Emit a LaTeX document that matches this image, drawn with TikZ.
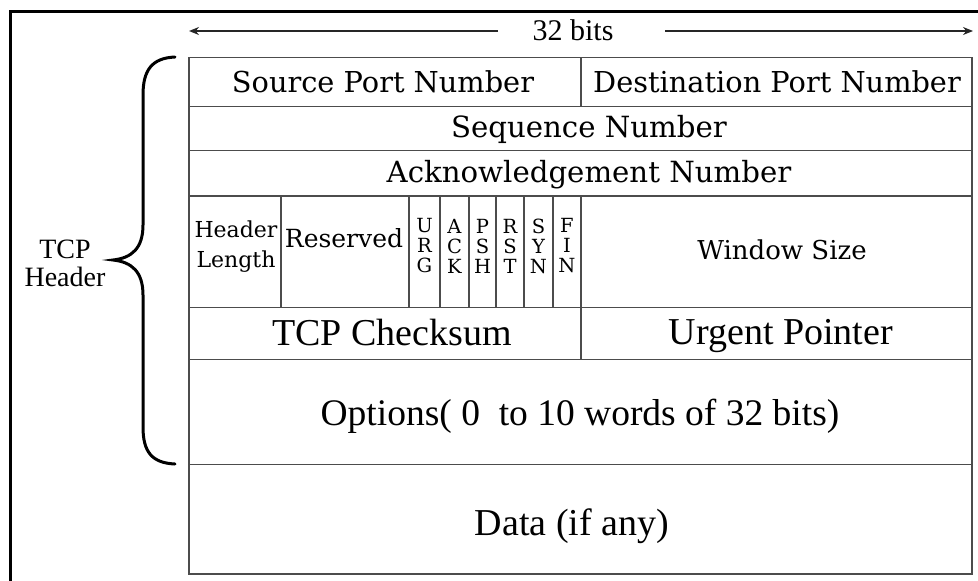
\documentclass[tikz,border=0pt]{standalone}
\usepackage{fontspec}
\setmainfont{DejaVu Serif}
\newfontfamily\timesf{Liberation Serif}
\usetikzlibrary{arrows.meta}
\begin{document}
\begin{tikzpicture}[x=1pt,y=-1pt,
  grid/.style={draw=black!70,line width=1.3pt},
  frame/.style={draw=black,line width=2.8pt},
  wide/.style={font=\fontsize{29.2}{32}\selectfont,inner sep=0pt,anchor=base},
  tms/.style={font=\timesf\fontsize{38}{44}\selectfont,inner sep=0pt,anchor=base},
  flag/.style={font=\fontsize{19.5}{20}\selectfont,inner sep=0pt,align=center,anchor=center},
  bitarrow/.style={draw=black!85,line width=1.5pt,-{Stealth[length=10pt,width=8pt]}},
]
\useasboundingbox (0,0) rectangle (978,581);
% outer frame
\draw[frame] (10.7,581) -- (10.7,11.5) -- (978,11.5);
% 32 bits arrow
\node[font=\timesf\fontsize{30}{34}\selectfont,inner sep=0pt,anchor=base] (bits) at (573,40) {32 bits};
\coordinate (al) at (189,31);
\coordinate (ar) at (973,31);
\coordinate (alr) at (498,31);
\coordinate (arl) at (665,31);
\draw[bitarrow] (alr) -- (al);
\draw[bitarrow] (arl) -- (ar);
% table grid
\draw[grid] (189,57.7) rectangle (972,574);
\foreach \y in {106.5,150.7,196,307.3,359.3,464.7}{\draw[grid] (189,\y) -- (972,\y);}
\draw[grid] (581,57.7) -- (581,106.5);
\foreach \x in {281,409,440,469,496,524,553,581}{\draw[grid] (\x,196) -- (\x,307.3);}
\draw[grid] (581,307.3) -- (581,359.3);
% texts
\node[font=\fontsize{28.8}{32}\selectfont,inner sep=0pt,anchor=base] (src) at (383,92) {Source Port Number};
\node[font=\fontsize{28.8}{32}\selectfont,inner sep=0pt,anchor=base] (dst) at (777,92) {Destination Port Number};
\node[wide] (seq) at (589,137) {Sequence Number};
\node[wide] (ack) at (589,182) {Acknowledgement Number};
\node[font=\fontsize{22}{30}\selectfont,inner sep=0pt,align=center,anchor=center] (hl) at (236,247) {Header\\Length};
\node[font=\fontsize{25}{30}\selectfont,inner sep=0pt,anchor=base] (res) at (344,247) {Reserved};
\node[flag] (urg) at (424.5,246) {U\\R\\G};
\node[flag] (ackf) at (454.5,246) {A\\C\\K};
\node[flag] (psh) at (482.5,246) {P\\S\\H};
\node[flag] (rst) at (510,246) {R\\S\\T};
\node[flag] (syn) at (538.5,246) {S\\Y\\N};
\node[flag] (fin) at (567,246) {F\\I\\N};
\node[font=\fontsize{26}{30}\selectfont,inner sep=0pt,anchor=base] (win) at (782,259) {Window Size};
\node[tms] (chk) at (392,345) {TCP Checksum};
\node[tms] (urp) at (781,344) {Urgent Pointer};
\node[font=\timesf\fontsize{37.5}{44}\selectfont,inner sep=0pt,anchor=base] (opt) at (580,425) {Options(~0~~to 10 words of 32 bits)};
\node[tms] (data) at (572,535) {Data (if any)};
% brace
\draw[line width=3pt,line cap=round] (175,57) .. controls (152,58) and (143,70) .. (143,95) -- (143,225) .. controls (143,248) and (132,258) .. (113,260) .. controls (132,262) and (143,272) .. (143,295) -- (143,427) .. controls (143,452) and (152,463) .. (175,464);
\node[font=\timesf\fontsize{28}{28}\selectfont,inner sep=0pt,align=center,anchor=center] (hdr) at (65,263) {TCP\\Header};
\end{tikzpicture}
\end{document}
